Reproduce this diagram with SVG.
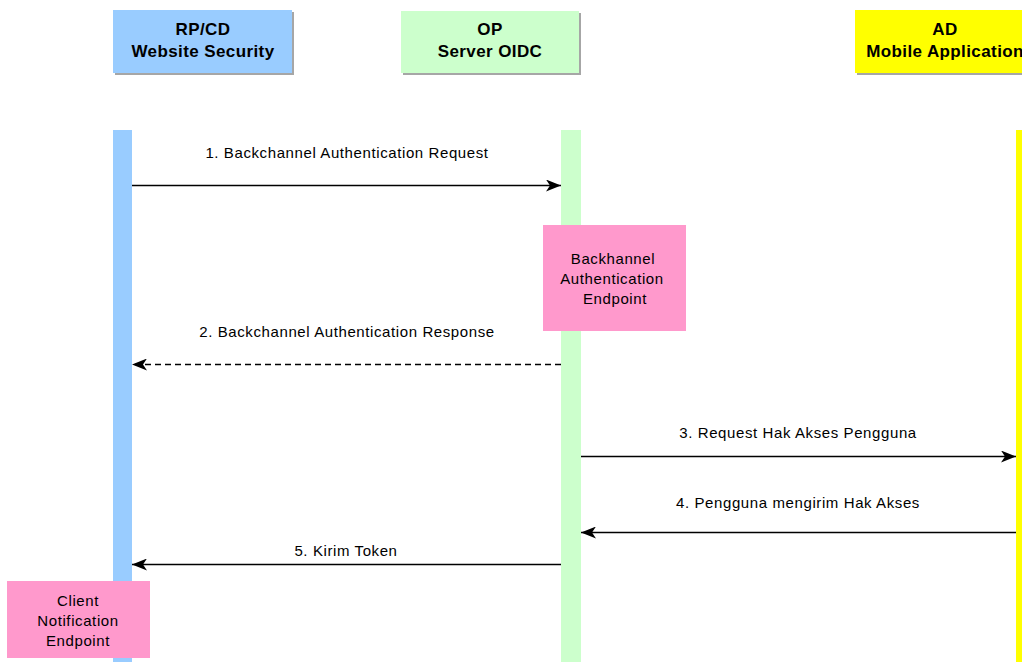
<svg xmlns="http://www.w3.org/2000/svg" width="1022" height="662" viewBox="0 0 1022 662">
  <style>
    .hdr { font-family: "Liberation Sans", Arial, sans-serif; font-weight: bold; font-size: 17px; letter-spacing: 0.4px; fill: #000; text-anchor: middle; }
    .lbl { font-family: "Liberation Sans", Arial, sans-serif; font-size: 15px; letter-spacing: 0.6px; fill: #000; text-anchor: middle; }
    .msg { stroke: #000; stroke-width: 1.6; fill: none; }
    .box { fill: #ff99cc; }
  </style>
  <defs>
    <marker id="arrow" viewBox="0 0 15 12" refX="15" refY="6" markerWidth="15" markerHeight="12" markerUnits="userSpaceOnUse" orient="auto">
      <path d="M0,0 L15,6 L0,12 L4,6 Z" fill="#000"/>
    </marker>
    <filter id="shadow" x="-5%" y="-5%" width="115%" height="125%">
      <feDropShadow dx="2" dy="2" stdDeviation="0.6" flood-color="#000" flood-opacity="0.35"/>
    </filter>
  </defs>
  <rect width="1022" height="662" fill="#fff"/>

  <!-- RP/CD participant -->
  <g id="rp">
    <rect x="113" y="10" width="179" height="63" fill="#99ccff" filter="url(#shadow)"/>
    <text class="hdr" x="203" y="35">RP/CD</text>
    <text class="hdr" x="203" y="57">Website Security</text>
    <rect x="113" y="130" width="19" height="532" fill="#99ccff"/>
  </g>

  <!-- OP participant -->
  <g id="op">
    <rect x="401" y="11" width="178" height="62" fill="#ccffcc" filter="url(#shadow)"/>
    <text class="hdr" x="490" y="35">OP</text>
    <text class="hdr" x="490" y="57">Server OIDC</text>
    <rect x="561" y="130" width="20" height="532" fill="#ccffcc"/>
  </g>

  <!-- AD participant -->
  <g id="ad">
    <rect x="855" y="10" width="180" height="63" fill="#ffff00" filter="url(#shadow)"/>
    <text class="hdr" x="945" y="35">AD</text>
    <text class="hdr" x="945" y="57">Mobile Application</text>
    <rect x="1016" y="130" width="10" height="532" fill="#ffff00"/>
  </g>

  <!-- Endpoint boxes -->
  <g id="backchannel-endpoint">
    <rect class="box" x="543" y="225" width="143" height="106"/>
    <text class="lbl" x="613" y="264">Backhannel</text>
    <text class="lbl" x="612" y="284">Authentication</text>
    <text class="lbl" x="615" y="304">Endpoint</text>
  </g>

  <g id="client-endpoint">
    <rect class="box" x="7" y="581" width="143" height="77"/>
    <text class="lbl" x="78" y="606">Client</text>
    <text class="lbl" x="78" y="626">Notification</text>
    <text class="lbl" x="78" y="646">Endpoint</text>
  </g>

  <!-- Messages -->
  <g id="connectors">
    <line class="msg" x1="132" y1="185.5" x2="561" y2="185.5" marker-end="url(#arrow)"/>
    <text class="lbl" x="347" y="158">1. Backchannel Authentication Request</text>

    <line class="msg" x1="561" y1="364.5" x2="132" y2="364.5" stroke-dasharray="6,4" marker-end="url(#arrow)"/>
    <text class="lbl" x="347" y="337">2. Backchannel Authentication Response</text>

    <line class="msg" x1="581" y1="456.5" x2="1016" y2="456.5" marker-end="url(#arrow)"/>
    <text class="lbl" x="798" y="438">3. Request Hak Akses Pengguna</text>

    <line class="msg" x1="1016" y1="532.5" x2="581" y2="532.5" marker-end="url(#arrow)"/>
    <text class="lbl" x="798" y="508">4. Pengguna mengirim Hak Akses</text>

    <line class="msg" x1="561" y1="564.5" x2="132" y2="564.5" marker-end="url(#arrow)"/>
    <text class="lbl" x="346" y="556">5. Kirim Token</text>
  </g>
</svg>
